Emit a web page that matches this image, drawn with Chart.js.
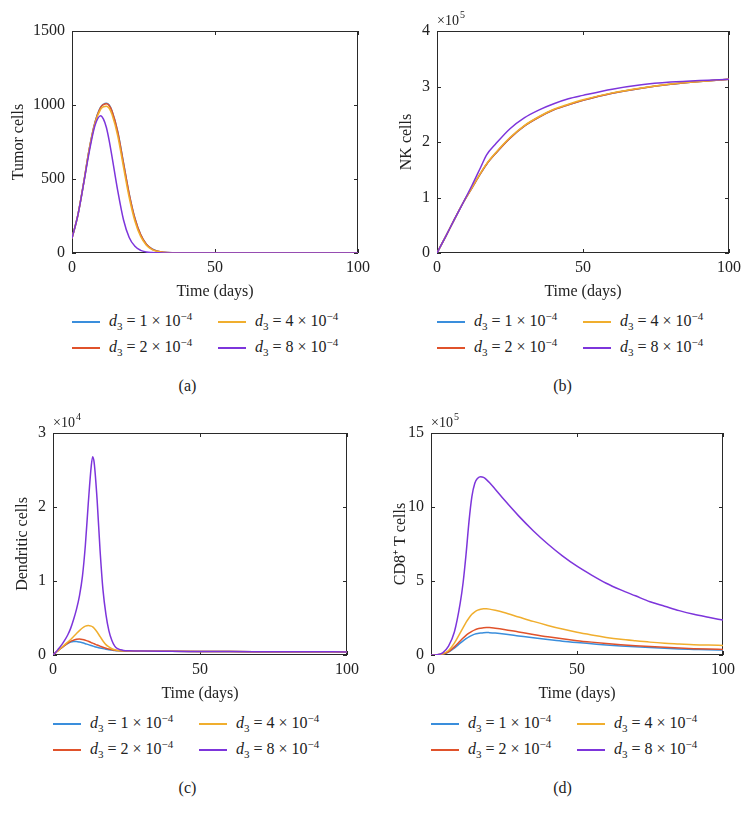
<!DOCTYPE html>
<html>
<head>
<meta charset="utf-8">
<script src="https://cdn.jsdelivr.net/npm/chart.js@4.4.0/dist/chart.umd.min.js"></script>
<style>
  body{margin:0;background:#fff;width:750px;height:820px;position:relative;overflow:hidden;
       font-family:"Liberation Serif",serif;color:#222}
  .panel{position:absolute;width:375px;height:301px}
  .leg{position:absolute;font-size:16px;line-height:20px;white-space:nowrap}
  .leg sub,.leg sup{font-size:11px;line-height:0}
  .ln{position:absolute;width:28px;height:2px}
  .cap{position:absolute;width:375px;text-align:center;font-size:16px;line-height:20px}
</style>
</head>
<body>
<div class="panel" style="left:0;top:0"><canvas id="ga" width="375" height="301"></canvas></div>
<div class="panel" style="left:375px;top:0"><canvas id="gb" width="375" height="301"></canvas></div>
<div class="panel" style="left:0;top:402px"><canvas id="gc" width="375" height="301"></canvas></div>
<div class="panel" style="left:375px;top:402px"><canvas id="gd" width="375" height="301"></canvas></div>
<div id="extras"></div>
<script>
// valores de d3 (legenda) e cores
const d3Valores = ['1', '2', '4', '8'];
const cores = ['#3A8EDC', '#E0522B', '#F0AE2E', '#7D35DB'];

// (a) celulas tumorais
const diasTumor = [0,2,4,6,8,10,11,12,13,14,16,18,20,22,24,26,28,30,32,35,40,50,60,70,80,90,100];
const tumor1 = [100,252,465,700,880,985,1005,1012,1000,960,820,610,400,235,125,60,27,12,5,1,0,0,0,0,0,0,0];
const tumor2 = [100,252,465,699,879,983,1003,1009,997,957,817,607,398,233,124,59,26,12,5,1,0,0,0,0,0,0,0];
const tumor4 = [100,251,463,695,872,970,988,992,978,935,790,580,375,215,112,53,23,10,4,1,0,0,0,0,0,0,0];
const tumor8 = [100,250,460,680,860,928,905,850,760,650,420,225,105,45,18,7,3,1,0,0,0,0,0,0,0,0,0];

// (b) celulas NK (x10^5)
const diasNK = [0,3,6,9,12,15,17,20,25,30,35,40,45,50,60,70,80,90,100];
const nk1 = [0,0.30,0.61,0.91,1.175,1.44,1.60,1.79,2.07,2.29,2.45,2.58,2.67,2.75,2.88,2.97,3.04,3.09,3.13];
const nk2 = [0,0.30,0.61,0.91,1.175,1.44,1.60,1.79,2.07,2.29,2.45,2.58,2.67,2.75,2.88,2.97,3.04,3.09,3.13];
const nk4 = [0,0.30,0.61,0.91,1.18,1.45,1.61,1.80,2.08,2.30,2.46,2.59,2.68,2.76,2.885,2.975,3.045,3.09,3.13];
const nk8 = [0,0.30,0.61,0.91,1.22,1.55,1.77,1.96,2.24,2.44,2.58,2.69,2.78,2.84,2.95,3.03,3.08,3.11,3.13];

// (c) celulas dendriticas (x10^4)
const diasDC = [0,1,2,3,4,5,6,7,8,9,10,11,12,13,13.5,14,15,16,17,18,19,20,21,22,23,24,26,30,40,50,60,70,80,90,100];
const dc1 = [0,0.035,0.07,0.1,0.13,0.155,0.175,0.183,0.182,0.175,0.165,0.153,0.14,0.128,0.122,0.116,0.105,0.095,0.086,0.078,0.071,0.066,0.061,0.058,0.055,0.053,0.052,0.051,0.05,0.048,0.046,0.045,0.044,0.043,0.042];
const dc2 = [0,0.035,0.07,0.1,0.13,0.16,0.185,0.2,0.212,0.215,0.21,0.2,0.185,0.168,0.16,0.152,0.135,0.12,0.105,0.092,0.08,0.072,0.065,0.06,0.057,0.055,0.053,0.052,0.05,0.048,0.046,0.045,0.044,0.043,0.042];
const dc4 = [0,0.035,0.07,0.105,0.14,0.175,0.21,0.25,0.29,0.33,0.365,0.39,0.4,0.39,0.38,0.36,0.31,0.25,0.19,0.14,0.11,0.085,0.07,0.062,0.058,0.056,0.054,0.052,0.05,0.048,0.046,0.045,0.044,0.043,0.042];
const dc8 = [0,0.04,0.09,0.14,0.2,0.27,0.36,0.48,0.62,0.8,1.06,1.48,2.05,2.55,2.68,2.6,2.1,1.42,0.88,0.55,0.33,0.2,0.12,0.085,0.07,0.062,0.057,0.053,0.05,0.048,0.046,0.045,0.044,0.043,0.042];

// (d) celulas T CD8+ (x10^5)
const diasCD8 = [0,2,4,6,8,10,11,12,13,14,15,16,17,18,19,20,22,25,30,35,40,45,50,55,60,65,70,75,80,85,90,95,100];
const cd8_1 = [0,0.01,0.05,0.19,0.47,0.8,0.96,1.1,1.23,1.33,1.41,1.46,1.49,1.51,1.52,1.51,1.48,1.42,1.29,1.16,1.04,0.93,0.84,0.76,0.68,0.61,0.55,0.5,0.45,0.41,0.38,0.35,0.33];
const cd8_2 = [0,0.01,0.06,0.22,0.55,0.95,1.15,1.33,1.48,1.6,1.7,1.77,1.81,1.84,1.85,1.85,1.81,1.73,1.56,1.39,1.23,1.09,0.97,0.87,0.78,0.7,0.63,0.57,0.52,0.47,0.43,0.4,0.38];
const cd8_4 = [0,0.01,0.08,0.3,0.8,1.5,1.85,2.2,2.5,2.75,2.92,3.03,3.09,3.12,3.12,3.1,3.02,2.87,2.57,2.27,2.0,1.75,1.53,1.35,1.19,1.06,0.96,0.87,0.8,0.75,0.7,0.67,0.65];
const cd8_8 = [0,0.02,0.15,0.6,1.55,3.5,4.9,6.8,9.0,10.7,11.6,11.95,12.05,12.0,11.85,11.65,11.2,10.5,9.4,8.4,7.5,6.7,6.0,5.4,4.85,4.4,4.0,3.6,3.3,3.0,2.75,2.55,2.36];

const fonte = {family: '"Liberation Serif", serif', size: 16};
const corTexto = '#222';

// caixa estilo matlab com ticks para dentro + rotulo x10^n
const caixaPlugin = {
  id: 'caixa',
  beforeDatasetsDraw(chart, args, opts) {
    const {ctx, chartArea: a, scales: {x, y}} = chart;
    ctx.save();
    ctx.strokeStyle = '#2a2a2a';
    ctx.lineWidth = 1;
    ctx.strokeRect(a.left + 0.5, a.top + 0.5, a.right - a.left - 1, a.bottom - a.top - 1);
    ctx.beginPath();
    const tl = 4;
    x.ticks.forEach(t => {
      const px = Math.round(x.getPixelForValue(t.value)) + 0.5;
      ctx.moveTo(px, a.bottom); ctx.lineTo(px, a.bottom - tl);
      ctx.moveTo(px, a.top); ctx.lineTo(px, a.top + tl);
    });
    y.ticks.forEach(t => {
      const py = Math.round(y.getPixelForValue(t.value)) + 0.5;
      ctx.moveTo(a.left, py); ctx.lineTo(a.left + tl, py);
      ctx.moveTo(a.right, py); ctx.lineTo(a.right - tl, py);
    });
    ctx.stroke();
    if (opts.expoente) {
      ctx.fillStyle = corTexto;
      ctx.textBaseline = 'alphabetic';
      ctx.textAlign = 'left';
      ctx.font = '14px "Liberation Serif", serif';
      const base = a.top - 6;
      ctx.fillText('×10', a.left, base);
      const w = ctx.measureText('×10').width;
      ctx.font = '10px "Liberation Serif", serif';
      ctx.fillText(opts.expoente, a.left + w + 1, base - 7);
    }
    ctx.restore();
  }
};

const criarGrafico = (id, dias, series, cfg) => {
  const ctx = document.getElementById(id).getContext('2d');
  return new Chart(ctx, {
    type: 'line',
    data: {
      datasets: series.map((s, i) => ({
        data: dias.map((d, k) => ({x: d, y: s[k]})),
        borderColor: cores[i],
        borderWidth: 1.5,
        pointRadius: 0,
        cubicInterpolationMode: 'monotone',
        fill: false,
        order: series.length - i // ultima serie (roxa) por cima, como no matlab
      }))
    },
    options: {
      responsive: false,
      animation: false,
      layout: {padding: {left: 0, top: 31, right: cfg.direita, bottom: 0}},
      plugins: {legend: {display: false}, tooltip: {enabled: false}, caixa: {expoente: cfg.expoente}},
      scales: {
        x: {
          type: 'linear', min: 0, max: 100,
          ticks: {stepSize: 50, color: corTexto, font: fonte, padding: 5, maxRotation: 0, callback: v => String(v)},
          grid: {display: false, drawTicks: false},
          border: {display: false},
          title: {display: true, text: 'Time (days)', color: corTexto, font: fonte, padding: {top: 0, bottom: 0}},
          afterFit: s => { s.height = 48; }
        },
        y: {
          min: 0, max: cfg.yMax,
          ticks: {stepSize: cfg.yPasso, color: corTexto, font: fonte, padding: 7, callback: v => String(v)},
          grid: {display: false, drawTicks: false},
          border: {display: false},
          title: {display: true, text: cfg.titulo, color: corTexto, font: fonte, padding: {top: cfg.tituloPad, bottom: 0}},
          afterFit: s => { s.width = cfg.esquerda; }
        }
      }
    },
    plugins: [caixaPlugin]
  });
};

criarGrafico('ga', diasTumor, [tumor1, tumor2, tumor4, tumor8],
  {yMax: 1500, yPasso: 500, titulo: 'Tumor cells', esquerda: 72, direita: 10, tituloPad: 9});
criarGrafico('gb', diasNK, [nk1, nk2, nk4, nk8],
  {yMax: 4, yPasso: 1, titulo: 'NK cells', esquerda: 62, direita: 21, tituloPad: 22, expoente: '5'});
criarGrafico('gc', diasDC, [dc1, dc2, dc4, dc8],
  {yMax: 3, yPasso: 1, titulo: 'Dendritic cells', esquerda: 53, direita: 28, tituloPad: 13, expoente: '4'});
criarGrafico('gd', diasCD8, [cd8_1, cd8_2, cd8_4, cd8_8],
  {yMax: 15, yPasso: 5, titulo: 'CD8⁺ T cells', esquerda: 56, direita: 27, tituloPad: 16, expoente: '5'});

// legendas e legendas dos paineis em html
const extras = document.getElementById('extras');
const paineis = [
  {x0: 0, top: 0, plotEsq: 72, cap: '(a)'},
  {x0: 375, top: 0, plotEsq: 437, cap: '(b)'},
  {x0: 0, top: 402, plotEsq: 53, cap: '(c)'},
  {x0: 375, top: 402, plotEsq: 431, cap: '(d)'}
];
const ordem = [[0, 0, 0], [2, 1, 0], [1, 0, 1], [3, 1, 1]]; // serie, coluna, linha
paineis.forEach(p => {
  ordem.forEach(([s, col, lin]) => {
    const yc = p.top + 322 + lin * 26;
    const xl = p.plotEsq + col * 146;
    const ln = document.createElement('div');
    ln.className = 'ln';
    ln.style.left = xl + 'px';
    ln.style.top = (yc - 1) + 'px';
    ln.style.background = cores[s];
    extras.appendChild(ln);
    const tx = document.createElement('div');
    tx.className = 'leg';
    tx.style.left = (xl + 37) + 'px';
    tx.style.top = (yc - 11) + 'px';
    tx.innerHTML = '<i>d</i><sub>3</sub> = ' + d3Valores[s] + ' × 10<sup>−4</sup>';
    extras.appendChild(tx);
  });
  const cap = document.createElement('div');
  cap.className = 'cap';
  cap.style.left = p.x0 + 'px';
  cap.style.top = (p.top + 376) + 'px';
  cap.textContent = p.cap;
  extras.appendChild(cap);
});
</script>
</body>
</html>
